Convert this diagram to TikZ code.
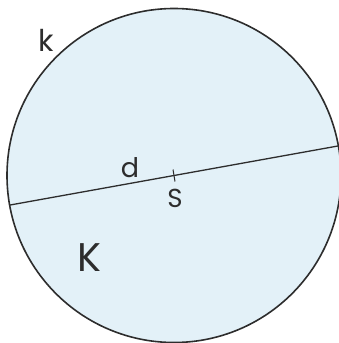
\documentclass[tikz,border=0pt]{standalone}
\usepackage{fontspec}
\setmainfont{Poppins}
\usetikzlibrary{calc}
\definecolor{diskfill}{RGB}{227,241,248}
\definecolor{inkgray}{RGB}{45,45,45}
\begin{document}
\begin{tikzpicture}[x=1pt,y=-1pt,
  outline/.style={draw=inkgray,line width=1.6pt},
  lbl/.style={text=inkgray,inner sep=0pt}]
\useasboundingbox (0,0) rectangle (339,343);
\coordinate (S) at (174,175.5);
\coordinate (A) at ($(S)+(-164.4,29.6)$);
\coordinate (B) at ($(S)+(164.4,-29.6)$);
\fill[diskfill] (S) circle (167);
\draw[outline] (S) circle (167);
\draw[draw=inkgray,line width=1.3pt] (A) -- (B);
\draw[draw=inkgray,line width=1pt] ($(S)+(-1,-6)$) -- ($(S)+(1,6)$);
\node[lbl,font=\fontsize{30}{30}\selectfont] (k) at (46,40) {k};
\node[lbl,font=\fontsize{27}{27}\selectfont] (d) at (130,168) {d};
\node[lbl,font=\fontsize{26}{26}\selectfont] (s) at (175,198) {S};
\node[lbl,font=\fontsize{40}{40}\selectfont] (K) at (89,258) {K};
\end{tikzpicture}
\end{document}
